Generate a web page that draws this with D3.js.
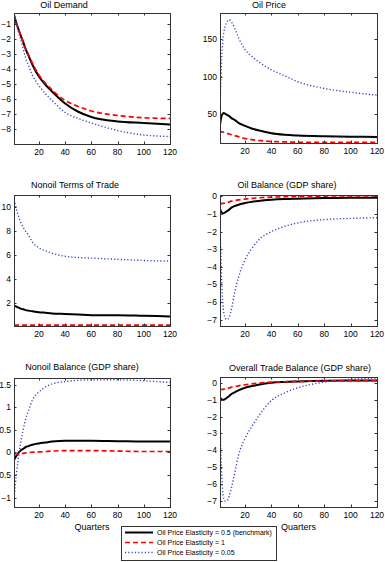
<!DOCTYPE html>
<html>
<head>
<meta charset="UTF-8">
<title>Oil price elasticity responses</title>
<script src="https://cdn.jsdelivr.net/npm/d3@7"></script>
<style>
  body { margin: 0; background: #fff; }
  svg { display: block; font-family: "Liberation Sans", Arial, sans-serif; }
</style>
</head>
<body>
<svg id="chart" width="385" height="562"></svg>
<script>
var quarters = [1, 2, 3, 4, 5, 6, 8, 10, 12, 15, 20, 25, 30, 40, 50, 60, 80, 100, 120];
var xTicks = [20, 40, 60, 80, 100, 120];

var titles = ["Oil Demand", "Oil Price", "Nonoil Terms of Trade",
              "Oil Balance (GDP share)", "Nonoil Balance (GDP share)", "Overall Trade Balance (GDP share)"];
var legendLabels = ["Oil Price Elasticity = 0.5 (benchmark)", "Oil Price Elasticity = 1", "Oil Price Elasticity = 0.05"];

// series: bench = 0.5, high = 1, low = 0.05
var demandBench = [-0.4, -0.7, -1.0, -1.25, -1.5, -1.75, -2.2, -2.7, -3.1, -3.7, -4.5, -5.05, -5.5, -6.3, -6.85, -7.2, -7.5, -7.6, -7.7];
var demandHigh  = [-0.4, -0.7, -1.0, -1.25, -1.5, -1.75, -2.2, -2.65, -3.05, -3.6, -4.4, -4.95, -5.4, -6.1, -6.5, -6.8, -7.1, -7.25, -7.3];
var demandLow   = [-0.4, -0.75, -1.1, -1.4, -1.7, -2.0, -2.65, -3.3, -3.75, -4.4, -5.1, -5.65, -6.1, -6.9, -7.3, -7.6, -8.1, -8.4, -8.5];

var priceBench = [35, 46, 50, 51, 50, 49, 47, 44, 42, 38, 34, 30.5, 28, 24, 22, 21, 20, 19.5, 19];
var priceHigh  = [24, 26, 26, 25, 24.5, 24, 23, 22, 21, 19.5, 17, 15.5, 14.5, 13, 12.5, 12, 12, 12, 12];
var priceLow   = [55, 113, 145, 160, 167, 172, 176, 172, 165, 152, 136, 127, 120, 109, 101, 93, 84, 79, 75];

var totBench = [1.8, 1.75, 1.7, 1.65, 1.6, 1.55, 1.5, 1.42, 1.38, 1.32, 1.25, 1.2, 1.15, 1.1, 1.05, 1.0, 1.0, 0.95, 0.9];
var totHigh  = [0.18, 0.18, 0.17, 0.17, 0.17, 0.17, 0.17, 0.17, 0.17, 0.17, 0.17, 0.17, 0.17, 0.17, 0.17, 0.17, 0.17, 0.17, 0.17];
var totLow   = [10.6, 10.2, 9.75, 9.4, 9.05, 8.75, 8.3, 7.95, 7.65, 7.1, 6.6, 6.35, 6.15, 5.9, 5.8, 5.75, 5.65, 5.55, 5.5];

var oilBalBench = [-0.7, -0.88, -0.95, -0.95, -0.9, -0.85, -0.75, -0.62, -0.55, -0.47, -0.38, -0.31, -0.26, -0.19, -0.15, -0.13, -0.09, -0.07, -0.07];
var oilBalHigh  = [-0.42, -0.41, -0.4, -0.39, -0.38, -0.36, -0.31, -0.27, -0.24, -0.2, -0.15, -0.11, -0.08, -0.04, -0.02, 0, 0.02, 0.03, 0.03];
var oilBalLow   = [-1.5, -4.2, -5.9, -6.65, -6.9, -7.0, -6.85, -6.3, -5.5, -4.6, -3.6, -2.97, -2.5, -2.0, -1.7, -1.5, -1.32, -1.25, -1.21];

var nonoilBalBench = [-0.17, -0.12, -0.07, -0.03, 0.01, 0.04, 0.08, 0.12, 0.14, 0.17, 0.2, 0.22, 0.24, 0.26, 0.26, 0.26, 0.25, 0.24, 0.24];
var nonoilBalHigh  = [-0.02, -0.03, -0.04, -0.04, -0.04, -0.03, -0.02, -0.01, 0, 0.005, 0.01, 0.02, 0.03, 0.04, 0.04, 0.04, 0.03, 0.02, 0.02];
var nonoilBalLow   = [-1.02, -0.72, -0.43, -0.2, 0.01, 0.2, 0.5, 0.75, 0.92, 1.16, 1.34, 1.45, 1.52, 1.57, 1.6, 1.61, 1.61, 1.59, 1.55];

var tradeBalBench = [-0.85, -0.97, -1.0, -1.0, -0.95, -0.9, -0.78, -0.65, -0.57, -0.45, -0.3, -0.2, -0.12, 0, 0.05, 0.08, 0.12, 0.13, 0.14];
var tradeBalHigh  = [-0.41, -0.4, -0.39, -0.38, -0.36, -0.34, -0.3, -0.26, -0.23, -0.18, -0.12, -0.07, -0.03, 0.04, 0.06, 0.08, 0.1, 0.11, 0.12];
var tradeBalLow   = [-2.3, -4.9, -6.3, -6.9, -7.0, -7.0, -6.7, -6.1, -5.4, -4.3, -3.3, -2.6, -2.0, -1.05, -0.6, -0.3, 0.04, 0.2, 0.28];

var yTicksDemand = [-8, -7, -6, -5, -4, -3, -2, -1];
var yTicksPrice = [50, 100, 150];
var yTicksTot = [2, 4, 6, 8, 10];
var yTicksBal = [-7, -6, -5, -4, -3, -2, -1, 0];
var yTicksNonoil = [-1, -0.5, 0, 0.5, 1, 1.5];

// panel boxes and y limits
var panels = [
  { x0: 14,  x1: 170, y0: 13,  y1: 144, ylim: [-9, -0.27],   yTicks: yTicksDemand, tx: 64,  ty: 7.5, series: [demandBench, demandHigh, demandLow] },
  { x0: 220, x1: 377, y0: 13,  y1: 143, ylim: [11, 185],     yTicks: yTicksPrice,  tx: 269, ty: 7.5, series: [priceBench, priceHigh, priceLow] },
  { x0: 14,  x1: 170, y0: 195, y1: 326, ylim: [0.1, 11],     yTicks: yTicksTot,    tx: 75,  ty: 188, series: [totBench, totHigh, totLow] },
  { x0: 220, x1: 377, y0: 195, y1: 326, ylim: [-7.36, 0.08], yTicks: yTicksBal,    tx: 287, ty: 188, series: [oilBalBench, oilBalHigh, oilBalLow] },
  { x0: 14,  x1: 170, y0: 378, y1: 507, ylim: [-1.21, 1.65], yTicks: yTicksNonoil, tx: 82,  ty: 370, series: [nonoilBalBench, nonoilBalHigh, nonoilBalLow], xlabel: true },
  { x0: 220, x1: 377, y0: 377, y1: 507, ylim: [-7.35, 0.34], yTicks: yTicksBal,    tx: 300, ty: 371, series: [tradeBalBench, tradeBalHigh, tradeBalLow], xlabel: true }
];

var styles = [
  { color: "#000000", width: 2,   dash: null },
  { color: "#ff0000", width: 1.7, dash: "5,3" },
  { color: "#3446c4", width: 1.4, dash: "1.2,2.1" }
];

var svg = d3.select("#chart");
var axisColor = "#333";

panels.forEach(function (p, i) {
  var x = d3.scaleLinear().domain([1, 120]).range([p.x0, p.x1]);
  var y = d3.scaleLinear().domain(p.ylim).range([p.y1, p.y0]);
  var g = svg.append("g");

  var clipId = "clip" + i;
  g.append("clipPath").attr("id", clipId)
    .append("rect").attr("x", p.x0).attr("y", p.y0)
    .attr("width", p.x1 - p.x0).attr("height", p.y1 - p.y0);

  // lines
  var line = d3.line()
    .x(function (d, k) { return x(quarters[k]); })
    .y(function (d) { return y(d); })
    .curve(d3.curveMonotoneX);

  p.series.forEach(function (s, k) {
    var st = styles[k];
    g.append("path")
      .attr("clip-path", "url(#" + clipId + ")")
      .attr("d", line(s))
      .attr("fill", "none")
      .attr("stroke", st.color)
      .attr("stroke-width", st.width)
      .attr("stroke-dasharray", st.dash)
      .attr("stroke-linejoin", "round");
  });

  // ticks inside on all four sides (matlab box)
  var tl = 2.5;
  xTicks.forEach(function (t) {
    var xx = Math.round(x(t)) + 0.5;
    g.append("line").attr("x1", xx).attr("x2", xx).attr("y1", p.y1).attr("y2", p.y1 - tl).attr("stroke", axisColor);
    g.append("line").attr("x1", xx).attr("x2", xx).attr("y1", p.y0).attr("y2", p.y0 + tl).attr("stroke", axisColor);
    g.append("text").attr("x", x(t)).attr("y", p.y1 + 11)
      .attr("text-anchor", "middle").attr("font-size", 8.5).attr("fill", "#000")
      .text(t);
  });
  p.yTicks.forEach(function (t) {
    var yy = Math.round(y(t)) + 0.5;
    g.append("line").attr("x1", p.x0).attr("x2", p.x0 + tl).attr("y1", yy).attr("y2", yy).attr("stroke", axisColor);
    g.append("line").attr("x1", p.x1).attr("x2", p.x1 - tl).attr("y1", yy).attr("y2", yy).attr("stroke", axisColor);
    g.append("text").attr("x", p.x0 - 3).attr("y", y(t) + 3)
      .attr("text-anchor", "end").attr("font-size", 8.5).attr("fill", "#000")
      .text(d3.format("")(t).replace("-", "\u2212"));
  });

  g.append("rect")
    .attr("x", p.x0 + 0.5).attr("y", p.y0 + 0.5)
    .attr("width", p.x1 - p.x0).attr("height", p.y1 - p.y0)
    .attr("fill", "none").attr("stroke", axisColor).attr("stroke-width", 1);

  g.append("text").attr("x", p.tx).attr("y", p.ty)
    .attr("text-anchor", "middle").attr("font-size", 9).attr("fill", "#000")
    .text(titles[i]);

  if (p.xlabel) {
    g.append("text").attr("x", (p.x0 + p.x1) / 2).attr("y", 530)
      .attr("text-anchor", "middle").attr("font-size", 9).attr("fill", "#000")
      .text("Quarters");
  }
});

// legend
var lg = svg.append("g");
lg.append("rect").attr("x", 121.5).attr("y", 526.5).attr("width", 155).attr("height", 34)
  .attr("fill", "#fff").attr("stroke", axisColor);
var rowY = [532.5, 542.5, 552.5];
legendLabels.forEach(function (lab, k) {
  var st = styles[k];
  lg.append("line").attr("x1", 125).attr("x2", 153).attr("y1", rowY[k]).attr("y2", rowY[k])
    .attr("stroke", st.color).attr("stroke-width", st.width).attr("stroke-dasharray", st.dash);
  lg.append("text").attr("x", 157).attr("y", rowY[k] + 2.5)
    .attr("font-size", 7).attr("fill", "#000").text(lab);
});
</script>
</body>
</html>
